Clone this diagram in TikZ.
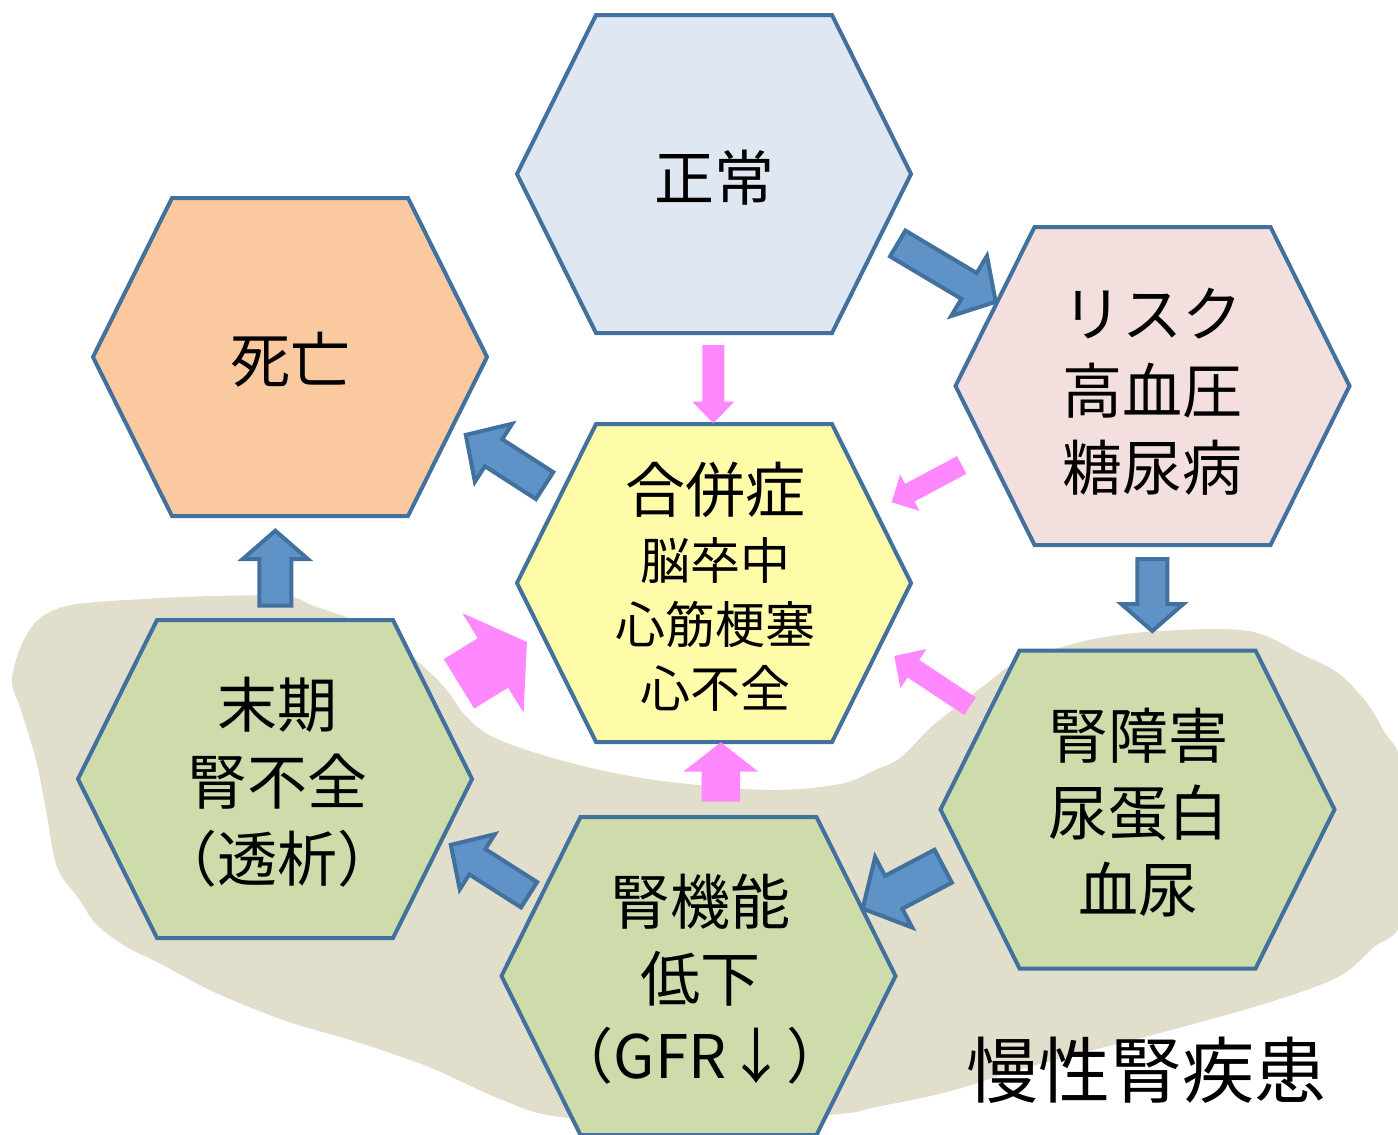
\documentclass[tikz,border=0pt]{standalone}
\usepackage{fontspec}
\setmainfont{Noto Sans CJK JP}
\usetikzlibrary{calc}
\definecolor{hexline}{HTML}{41719C}
\definecolor{arrblue}{HTML}{5F93C8}
\definecolor{pinkc}{HTML}{FF88FF}
\definecolor{fnormal}{HTML}{DEE7F2}
\definecolor{fdeath}{HTML}{FAC9A0}
\definecolor{frisk}{HTML}{F2DFDE}
\definecolor{fcomp}{HTML}{FFFCA9}
\definecolor{fgreen}{HTML}{CEDCAB}
\definecolor{fblob}{HTML}{E1DECC}
\tikzset{
 hexbox/.style={draw=hexline, line width=4bp, line join=miter},
 bluearr/.style={fill=arrblue, draw=hexline, line width=4bp, line join=miter},
 pinkarr/.style={fill=pinkc},
 bigtxt/.style={align=center, inner sep=0pt, font=\fontsize{60bp}{77bp}\selectfont},
 midtxt/.style={align=center, inner sep=0pt, font=\fontsize{50bp}{64bp}\selectfont},
}
\newcommand\hexagon[2]{%
 \path[hexbox, fill=#2, shift={(#1)}] (-197,0) -- (-118,-159) -- (118,-159) -- (197,0) -- (118,159) -- (-118,159) -- cycle;}
\newcommand\blockarr[6]{%
 \coordinate (ab) at ($(#3)!#6!(#2)$);
 \path[#1] ($(#2)!#4!90:(#3)$) -- ($(ab)!#4!90:(#3)$) -- ($(ab)!#5!90:(#3)$) -- (#3) -- ($(ab)!#5!-90:(#3)$) -- ($(ab)!#4!-90:(#3)$) -- ($(#2)!#4!-90:(#3)$) -- cycle;}
\begin{document}
\begin{tikzpicture}[x=1bp,y=-1bp]
\useasboundingbox (0,0) rectangle (1398,1134);
\clip (0,0) rectangle (1398,1134);
\fill[white] (0,0) rectangle (1398,1134);
% background region
\fill[fblob] plot[smooth cycle, tension=0.55] coordinates {
 (12,681) (21,646) (39,619) (71,605) (143,599) (214,596) (286,596) (314,606)
 (357,621) (393,639) (421,664) (446,689) (464,714) (489,735) (536,753) (600,770)
 (670,782) (770,790) (840,784) (875,770) (900,758) (929,729) (947,714) (990,681)
 (1018,662) (1089,640) (1160,631) (1249,631) (1303,655) (1338,673) (1367,703)
 (1385,733) (1400,760) (1410,850) (1400,925) (1374,947) (1338,977) (1267,1003)
 (1160,1033) (1089,1051) (1018,1070) (947,1092) (876,1107) (840,1114) (700,1125)
 (560,1117) (500,1099) (429,1067) (357,1042) (286,1021) (214,992) (161,964)
 (125,946) (96,924) (79,899) (57,867) (46,810) (36,760) (21,710)};
% hexagon centres
\coordinate (cnormal) at (714,174);
\coordinate (cdeath) at (290,357);
\coordinate (crisk) at (1152.5,386);
\coordinate (ccomp) at (714,583);
\coordinate (cesrd) at (275,779);
\coordinate (ckd) at (1137.5,809.5);
\coordinate (cgfr) at (698.5,976);
\hexagon{cnormal}{fnormal}
\hexagon{cdeath}{fdeath}
\hexagon{crisk}{frisk}
\hexagon{ccomp}{fcomp}
\hexagon{cesrd}{fgreen}
\hexagon{ckd}{fgreen}
\hexagon{cgfr}{fgreen}
% texts
\node[bigtxt] (normal) at (714,178) {正常};
\node[bigtxt] (death) at (290,360) {死亡};
\node[bigtxt] (risk) at (1152,392) {リスク\\高血圧\\糖尿病};
\node[bigtxt] (comp) at (715,490) {合併症};
\node[midtxt] (compsub) at (715,624) {脳卒中\\心筋梗塞\\心不全};
\node[bigtxt] (esrd) at (277,782) {末期\\腎不全\\（透析）};
\node[bigtxt] (kd) at (1138,813) {腎障害\\尿蛋白\\血尿};
\node[bigtxt] (gfr) at (700,979) {腎機能\\低下\\（GFR↓）};
\node[font=\fontsize{72bp}{80bp}\selectfont, inner sep=0pt] (ckdlabel) at (1146,1070) {慢性腎疾患};
% arrow end points
\coordinate (aT) at (897.7,243.5); \coordinate (aP) at (995.7,301.8);
\coordinate (bT) at (1152.3,559);  \coordinate (bP) at (1152.3,631);
\coordinate (cT) at (943.2,866.2); \coordinate (cP) at (862.7,908.6);
\coordinate (dT) at (529.1,894.7); \coordinate (dP) at (450.8,844.9);
\coordinate (eT) at (275.3,605.7); \coordinate (eP) at (275.3,530.7);
\coordinate (fT) at (544.6,485.6); \coordinate (fP) at (465.8,434.9);
\coordinate (gT) at (713.3,345);   \coordinate (gP) at (713.3,423.3);
\coordinate (hT) at (961.7,465);   \coordinate (hP) at (891.7,502.3);
\coordinate (iT) at (970,706.2);   \coordinate (iP) at (894.3,656);
\coordinate (jT) at (720.8,801.7); \coordinate (jP) at (720.8,742.3);
\coordinate (kT) at (459,683.8);   \coordinate (kP) at (527,642);
% blue arrows
\blockarr{bluearr}{aT}{aP}{15bp}{35bp}{31bp}
\blockarr{bluearr}{bT}{bP}{15bp}{31bp}{27bp}
\blockarr{bluearr}{cT}{cP}{18.6bp}{39.8bp}{35bp}
\blockarr{bluearr}{dT}{dP}{15bp}{32.7bp}{31.4bp}
\blockarr{bluearr}{eT}{eP}{16bp}{32.5bp}{28.3bp}
\blockarr{bluearr}{fT}{fP}{16bp}{34.5bp}{33bp}
% pink arrows
\blockarr{pinkarr}{gT}{gP}{11bp}{21bp}{21.7bp}
\blockarr{pinkarr}{hT}{hP}{10bp}{20.6bp}{20.5bp}
\blockarr{pinkarr}{iT}{iP}{10.5bp}{23.5bp}{22.9bp}
\blockarr{pinkarr}{jT}{jP}{19.2bp}{37.5bp}{29.4bp}
\blockarr{pinkarr}{kT}{kP}{29bp}{58.5bp}{40bp}
\end{tikzpicture}
\end{document}
